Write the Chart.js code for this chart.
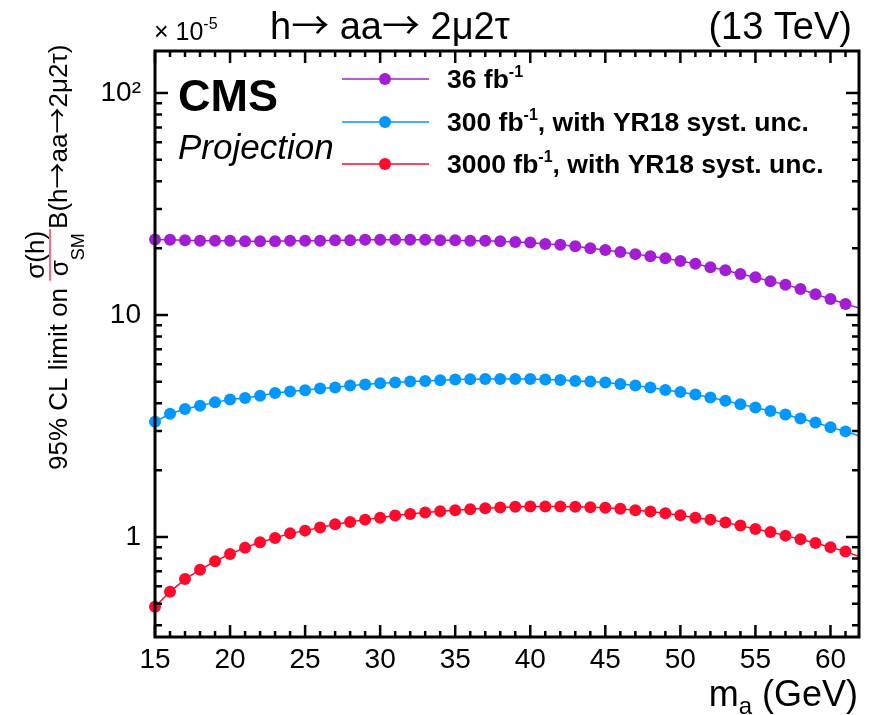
<!DOCTYPE html>
<html>
<head>
<meta charset="utf-8">
<script src="https://cdn.jsdelivr.net/npm/chart.js@4.4.1/dist/chart.umd.min.js"></script>
<style>
  html, body { margin: 0; padding: 0; background: #fff; }
  #wrap { width: 870px; height: 715px; }
</style>
</head>
<body>
<div id="wrap"><canvas id="limits"></canvas></div>
<script>
// pseudoscalar mass points (GeV)
const masses = [15, 16, 17, 18, 19, 20, 21, 22, 23, 24, 25, 26, 27, 28, 29, 30,
  31, 32, 33, 34, 35, 36, 37, 38, 39, 40, 41, 42, 43, 44, 45, 46, 47, 48, 49, 50,
  51, 52, 53, 54, 55, 56, 57, 58, 59, 60, 61, 62];

// expected 95% CL limits (x 10^-5)
const limit36 = [21.9, 21.8, 21.7, 21.6, 21.6, 21.6, 21.5, 21.5, 21.5, 21.6, 21.6, 21.6,
  21.7, 21.7, 21.8, 21.8, 21.8, 21.8, 21.8, 21.7, 21.7, 21.6, 21.6, 21.5, 21.3, 21.2,
  20.9, 20.7, 20.4, 20.0, 19.6, 19.2, 18.8, 18.4, 18.0, 17.5, 17.0, 16.4, 15.9, 15.3,
  14.8, 14.2, 13.7, 13.1, 12.4, 11.8, 11.2, 10.7];
const limit300 = [3.30, 3.59, 3.77, 3.90, 4.04, 4.16, 4.23, 4.33, 4.45, 4.52, 4.58, 4.66,
  4.71, 4.81, 4.86, 4.92, 4.96, 5.01, 5.04, 5.08, 5.12, 5.13, 5.15, 5.15, 5.15, 5.15,
  5.12, 5.10, 5.04, 5.01, 4.96, 4.89, 4.81, 4.71, 4.59, 4.50, 4.38, 4.25, 4.11, 3.96,
  3.83, 3.69, 3.56, 3.42, 3.28, 3.12, 2.99, 2.84];
const limit3000 = [0.485, 0.566, 0.646, 0.711, 0.778, 0.838, 0.895, 0.946, 0.990, 1.038,
  1.068, 1.102, 1.140, 1.169, 1.197, 1.222, 1.248, 1.270, 1.288, 1.306, 1.319, 1.333,
  1.347, 1.357, 1.367, 1.371, 1.371, 1.371, 1.367, 1.362, 1.353, 1.339, 1.319, 1.302,
  1.279, 1.253, 1.222, 1.197, 1.161, 1.125, 1.087, 1.053, 1.014, 0.976, 0.940, 0.898,
  0.861, 0.812];

const lumiLabels = ['36', '300', '3000'];
const lumiSuffix = ['', ', with YR18 syst. unc.', ', with YR18 syst. unc.'];
const lineColors = ['#a21dd4', '#0097ff', '#ff0a2c'];

const xTicks = [15, 20, 25, 30, 35, 40, 45, 50, 55, 60];
const yTicks = [1, 10, 100];

const X_MIN = 15, X_MAX = 61.9;
const Y_MIN = 0.3543, Y_MAX = 154.6;

const FONT = '"Liberation Sans", Arial, Helvetica, sans-serif';
const ARROW = '"Noto Sans CJK SC", "DejaVu Sans", sans-serif';
const RARR = '\u2192';

function makeSet(name, values, color) {
  return {
    label: name,
    data: masses.map((m, i) => ({ x: m, y: values[i] })),
    borderColor: color,
    backgroundColor: color,
    borderWidth: 1.5,
    pointRadius: ctx => (ctx.raw && ctx.raw.x > X_MAX ? 0 : 6),
    pointBorderWidth: 0,
    pointHoverRadius: 6,
    tension: 0,
    clip: { left: false, top: false, right: 0, bottom: false }
  };
}

// draw a run of text pieces [text, font, dy] one after another
function rich(ctx, parts, x, y, align) {
  let w = 0;
  parts.forEach(p => { ctx.font = p[1]; w += ctx.measureText(p[0]).width; });
  let cx = align === 'right' ? x - w : (align === 'center' ? x - w / 2 : x);
  parts.forEach(p => {
    ctx.font = p[1];
    ctx.fillText(p[0], cx, y + (p[2] || 0));
    cx += ctx.measureText(p[0]).width;
  });
  return w;
}

// split a string on arrows so the arrow gets the wide glyph
function withArrows(str, size, dy) {
  const out = [];
  str.split(RARR).forEach((s, i) => {
    if (i > 0) out.push([RARR, size + 'px ' + ARROW, dy]);
    if (s) out.push([s, size + 'px ' + FONT]);
  });
  return out;
}

const decor = {
  id: 'decor',
  afterDraw(chart) {
    const { ctx, chartArea: a } = chart;
    const xs = chart.scales.x, ys = chart.scales.y;
    ctx.save();
    ctx.fillStyle = '#000';
    ctx.strokeStyle = '#000';
    ctx.textAlign = 'left';
    ctx.textBaseline = 'alphabetic';

    // inward ticks, all four sides
    ctx.lineWidth = 2.5;
    ctx.beginPath();
    for (let m = 15; m <= 61; m++) {
      const px = xs.getPixelForValue(m);
      const len = m % 5 === 0 ? 12 : 6;
      ctx.moveTo(px, a.bottom); ctx.lineTo(px, a.bottom - len);
      ctx.moveTo(px, a.top); ctx.lineTo(px, a.top + len);
    }
    for (let e = -1; e <= 2; e++) {
      for (let k = 1; k <= 9; k++) {
        const v = k * Math.pow(10, e);
        if (v < Y_MIN || v > Y_MAX) continue;
        const py = ys.getPixelForValue(v);
        const len = k === 1 ? 13 : 7;
        ctx.moveTo(a.left, py); ctx.lineTo(a.left + len, py);
        ctx.moveTo(a.right, py); ctx.lineTo(a.right - len, py);
      }
    }
    ctx.stroke();

    // frame
    ctx.lineWidth = 3;
    ctx.strokeRect(a.left, a.top, a.right - a.left, a.bottom - a.top);

    // header
    rich(ctx, withArrows('h' + RARR + ' aa' + RARR + ' 2\u03bc2\u03c4', 38, 0), 270, 39, 'left');
    rich(ctx, [['(13 TeV)', '38px ' + FONT]], 852, 39, 'right');
    rich(ctx, [['\u00d7 10', '25px ' + FONT], ['-5', '16px ' + FONT, -11]], 154, 40, 'left');

    // CMS label
    rich(ctx, [['CMS', 'bold 45px ' + FONT]], 178, 111, 'left');
    rich(ctx, [['Projection', 'italic 35px ' + FONT]], 178, 159, 'left');

    // legend
    const rows = [79, 122, 164];
    chart.data.datasets.forEach((ds, i) => {
      const ly = rows[i];
      ctx.strokeStyle = ds.borderColor;
      ctx.lineWidth = 1.5;
      ctx.beginPath(); ctx.moveTo(342, ly); ctx.lineTo(429, ly); ctx.stroke();
      ctx.fillStyle = ds.borderColor;
      ctx.beginPath(); ctx.arc(385, ly, 6, 0, Math.PI * 2); ctx.fill();
      ctx.fillStyle = '#000';
      rich(ctx, [
        [lumiLabels[i] + ' fb', 'bold 26.5px ' + FONT],
        ['-1', 'bold 16px ' + FONT, -11],
        [lumiSuffix[i], 'bold 26.5px ' + FONT]
      ], 447, ly + 9, 'left');
    });

    // x title
    ctx.fillStyle = '#000';
    rich(ctx, [['m', '36px ' + FONT], ['a', '24px ' + FONT, 8], [' (GeV)', '36px ' + FONT]], 858, 706, 'right');

    // y title, rotated
    ctx.save();
    ctx.translate(67, 470);
    ctx.rotate(-Math.PI / 2);
    let cx = rich(ctx, [['95% CL limit on ', '26px ' + FONT]], 0, 0, 'left');
    ctx.font = '26px ' + FONT;
    const numW = ctx.measureText('\u03c3(h)').width;
    const sigW = ctx.measureText('\u03c3').width;
    ctx.font = '18px ' + FONT;
    const denW = sigW + ctx.measureText('SM').width;
    const fw = Math.max(numW, denW) + 4;
    rich(ctx, [['\u03c3(h)', '26px ' + FONT]], cx + fw / 2, -23, 'center');
    rich(ctx, [['\u03c3', '26px ' + FONT], ['SM', '18px ' + FONT, 16]], cx + fw / 2, 1, 'center');
    ctx.lineWidth = 1.2;
    ctx.beginPath(); ctx.moveTo(cx, -17); ctx.lineTo(cx + fw, -17); ctx.stroke();
    cx += fw;
    rich(ctx, withArrows('B(h' + RARR + 'aa' + RARR + '2\u03bc2\u03c4)', 26, 0), cx, 0, 'left');
    ctx.restore();

    ctx.restore();
  }
};

new Chart('limits', {
  type: 'line',
  data: {
    datasets: [
      makeSet('36 fb-1', limit36, lineColors[0]),
      makeSet('300 fb-1', limit300, lineColors[1]),
      makeSet('3000 fb-1', limit3000, lineColors[2])
    ]
  },
  options: {
    responsive: true,
    maintainAspectRatio: false,
    animation: false,
    layout: { padding: { top: 51, right: 11, left: 0, bottom: 0 } },
    plugins: { legend: { display: false }, tooltip: { enabled: false } },
    scales: {
      x: {
        type: 'linear', min: X_MIN, max: X_MAX,
        grid: { display: false, drawTicks: false },
        border: { display: false },
        afterBuildTicks: s => { s.ticks = xTicks.map(v => ({ value: v })); },
        afterFit: s => { s.height = 78; },
        ticks: { font: { family: FONT, size: 28 }, color: '#000', padding: 6, maxRotation: 0, autoSkip: false }
      },
      y: {
        type: 'logarithmic', min: Y_MIN, max: Y_MAX,
        grid: { display: false, drawTicks: false },
        border: { display: false },
        afterBuildTicks: s => { s.ticks = yTicks.map(v => ({ value: v })); },
        afterFit: s => { s.width = 155; },
        ticks: {
          font: { family: FONT, size: 28 }, color: '#000', padding: 14, autoSkip: false,
          callback: v => (v === 100 ? '10\u00b2' : String(v))
        }
      }
    }
  },
  plugins: [decor]
});
</script>
</body>
</html>
